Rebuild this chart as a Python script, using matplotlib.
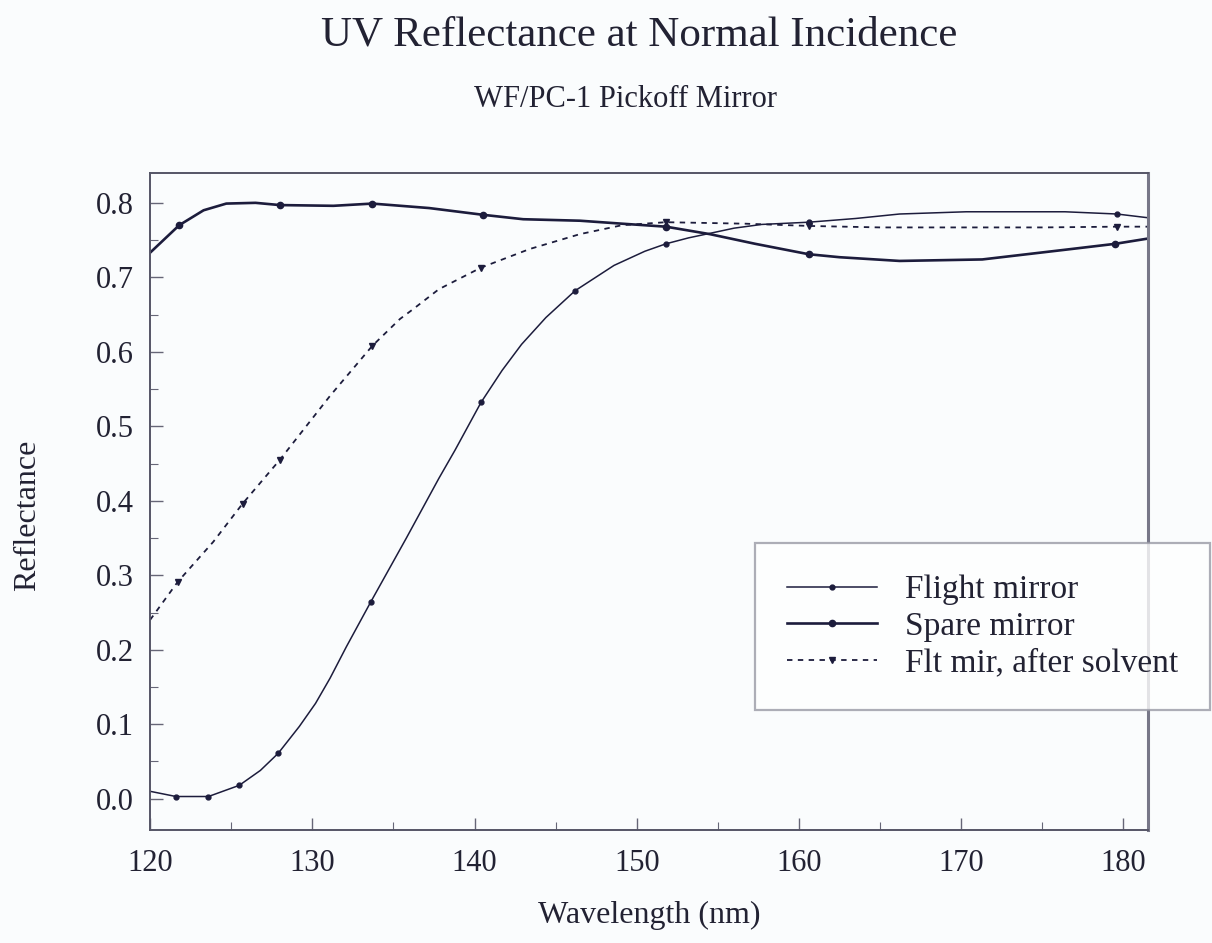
import matplotlib
matplotlib.use("Agg")
import matplotlib.pyplot as plt
import numpy as np
from matplotlib.ticker import MultipleLocator, FormatStrFormatter

# wavelength (nm) / reflectance
flight_wl = [120.0, 121.6, 123.6, 125.5, 126.8, 127.9, 129.2, 130.2, 131.1, 132.1,
             133.6, 134.7, 135.8, 136.8, 137.8, 138.8, 139.6, 140.4, 141.7, 142.9,
             144.4, 146.2, 148.6, 150.5, 151.8, 153.2, 154.5, 156.0, 157.7, 160.6,
             163.5, 166.2, 170.3, 176.4, 179.6, 181.5]
flight_r = [0.010, 0.003, 0.003, 0.018, 0.038, 0.061, 0.097, 0.128, 0.162, 0.204,
            0.264, 0.307, 0.350, 0.390, 0.430, 0.468, 0.500, 0.532, 0.575, 0.610,
            0.646, 0.682, 0.716, 0.735, 0.745, 0.753, 0.759, 0.766, 0.771, 0.774,
            0.779, 0.785, 0.788, 0.788, 0.785, 0.780]
flight_marks = [121.6, 123.6, 125.5, 127.9, 133.6, 140.4, 146.2, 151.8, 160.6, 179.6]

spare_wl = [120.0, 121.8, 123.3, 124.7, 126.5, 128.0, 131.3, 133.7, 137.2, 140.5,
            143.0, 146.5, 149.1, 151.8, 154.5, 157.3, 160.6, 162.5, 166.2, 171.3,
            176.4, 179.5, 181.5]
spare_r = [0.733, 0.770, 0.790, 0.799, 0.800, 0.797, 0.796, 0.799, 0.793, 0.784,
           0.778, 0.776, 0.772, 0.768, 0.758, 0.745, 0.731, 0.727, 0.722, 0.724,
           0.737, 0.745, 0.752]
spare_marks = [121.8, 128.0, 133.7, 140.5, 151.8, 160.6, 179.5]

solvent_wl = [120.0, 121.7, 123.9, 125.7, 128.0, 131.1, 133.7, 135.4, 136.2, 137.8,
              140.4, 143.4, 146.5, 149.1, 151.8, 156.7, 160.6, 165.0, 170.0, 175.0,
              179.6, 181.5]
solvent_r = [0.240, 0.291, 0.345, 0.396, 0.455, 0.541, 0.608, 0.644, 0.657, 0.684,
             0.713, 0.738, 0.758, 0.770, 0.774, 0.772, 0.769, 0.767, 0.767, 0.767,
             0.768, 0.768]
solvent_marks = [121.7, 125.7, 128.0, 133.7, 140.4, 151.8, 160.6, 179.6]

INK = "#1c1c3c"
SERIF = ["Liberation Serif", "DejaVu Serif"]


def mark_idx(wl, marks):
    return [int(i) for i in np.flatnonzero(np.isin(wl, marks))]


def main():
    plt.rcParams["font.family"] = SERIF
    fig = plt.figure(figsize=(12.12, 9.43), dpi=100, facecolor="#fafcfd")
    ax = fig.add_axes([0.1238, 0.1198, 0.8232, 0.6967])
    ax.set_facecolor("#fafcfd")

    ax.plot(flight_wl, flight_r, color=INK, linewidth=1.1, marker="o", markersize=3.5,
            markevery=mark_idx(flight_wl, flight_marks), label="Flight mirror")
    ax.plot(spare_wl, spare_r, color=INK, linewidth=1.9, marker="o", markersize=4.5,
            markevery=mark_idx(spare_wl, spare_marks), label="Spare mirror")
    ax.plot(solvent_wl, solvent_r, color=INK, linewidth=1.3, linestyle=(0, (3, 3)),
            marker="v", markersize=5, markevery=mark_idx(solvent_wl, solvent_marks),
            label="Flt mir, after solvent")

    ax.set_xlim(120, 181.5)
    ax.set_ylim(-0.042, 0.84)
    ax.xaxis.set_major_locator(MultipleLocator(10))
    ax.xaxis.set_minor_locator(MultipleLocator(5))
    ax.yaxis.set_major_locator(MultipleLocator(0.1))
    ax.yaxis.set_minor_locator(MultipleLocator(0.05))
    ax.yaxis.set_major_formatter(FormatStrFormatter("%.1f"))

    ax.tick_params(axis="both", which="both", direction="in", colors="#666677",
                   labelcolor="#222233", top=False, right=False)
    ax.tick_params(axis="both", which="major", length=9, width=1.0, labelsize=22)
    ax.tick_params(axis="both", which="minor", length=6, width=0.8)
    ax.tick_params(axis="x", which="major", pad=14)
    ax.tick_params(axis="y", which="major", pad=12)

    for side, spine in ax.spines.items():
        spine.set_color("#556")
        spine.set_linewidth(1.4)
    ax.spines["right"].set_linewidth(2.2)
    ax.spines["right"].set_color("#778")

    ax.set_xlabel("Wavelength (nm)", fontsize=23, color="#222233", labelpad=16)
    ax.set_ylabel("Reflectance", fontsize=23, color="#222233")
    ax.yaxis.set_label_coords(-0.108, 0.479)

    fig.text(0.527, 0.963, "UV Reflectance at Normal Incidence", fontsize=31,
             ha="center", va="center", color="#222233")
    fig.text(0.516, 0.894, "WF/PC-1 Pickoff Mirror", fontsize=22,
             ha="center", va="center", color="#222233")

    leg = ax.legend(loc="upper left", bbox_to_anchor=(0.623, 0.424),
                    bbox_transform=fig.transFigure, fontsize=24, frameon=True,
                    fancybox=False, borderpad=0.95, labelspacing=0.18,
                    handlelength=2.7, handletextpad=0.84, borderaxespad=0)
    leg.get_frame().set_edgecolor("#999aa5")
    leg.get_frame().set_linewidth(1.6)
    leg.get_frame().set_facecolor("#ffffff")
    leg.set_zorder(10)
    for t in leg.get_texts():
        t.set_color("#222233")

    fig.savefig("out.png", dpi=100, facecolor=fig.get_facecolor())
    plt.close(fig)


if __name__ == "__main__":
    main()
